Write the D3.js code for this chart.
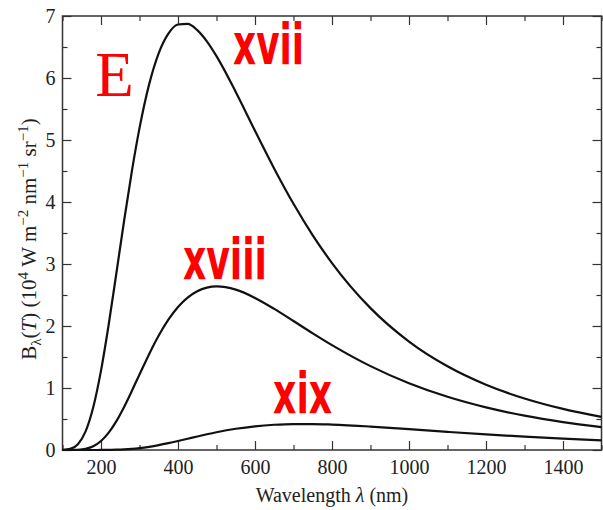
<!DOCTYPE html>
<html>
<head>
<meta charset="utf-8">
<script src="https://cdn.jsdelivr.net/npm/d3@7.9.0/dist/d3.min.js"></script>
<style>
  html, body { margin: 0; padding: 0; background: #fff; }
  svg { display: block; }
  .tick text { font-family: "Liberation Serif", "Times New Roman", serif; font-size: 20px; fill: #222; }
  .tick line { stroke: #333; stroke-width: 1.2; }
</style>
</head>
<body>
<svg id="chart" width="603" height="510"></svg>
<script>
// wavelengths (nm) and spectral radiance, 10^4 W m^-2 nm^-1 sr^-1
const lambda = [100, 120, 140, 160, 180, 200, 220, 240, 260, 280, 300, 325, 350, 375, 400, 425,
  450, 475, 500, 550, 600, 650, 700, 750, 800, 900, 1000, 1100, 1200, 1300, 1400, 1500];
const curveXvii = [0.0014, 0.0174, 0.0931, 0.2994, 0.6923, 1.2808, 2.0244, 2.8547, 3.6976, 4.4909,
  5.191, 5.897, 6.402, 6.716, 6.863, 6.872, 6.772, 6.591, 6.352, 5.775, 5.149, 4.538, 3.971, 3.462,
  3.015, 2.288, 1.749, 1.350, 1.053, 0.831, 0.663, 0.534];
const curveXviii = [0.0000, 0.0005, 0.0042, 0.0198, 0.0619, 0.1457, 0.2807, 0.4665, 0.6946, 0.9505,
  1.218, 1.546, 1.846, 2.101, 2.306, 2.458, 2.561, 2.619, 2.638, 2.586, 2.453, 2.276, 2.080, 1.882,
  1.692, 1.353, 1.077, 0.858, 0.687, 0.554, 0.450, 0.368];
const curveXix = [0, 0, 0, 0, 0.0001, 0.0006, 0.0018, 0.0046, 0.0098, 0.0182, 0.0304, 0.0513, 0.0780,
  0.1097, 0.1446, 0.1813, 0.2181, 0.2535, 0.2865, 0.3423, 0.3825, 0.4072, 0.4181, 0.4182, 0.4098,
  0.3776, 0.3356, 0.2922, 0.2515, 0.2152, 0.1837, 0.1568];

const xMajor = [200, 400, 600, 800, 1000, 1200, 1400];
const xMinor = [100, 300, 500, 700, 900, 1100, 1300, 1500];
const yMajor = [0, 1, 2, 3, 4, 5, 6, 7];
const yMinor = [0.5, 1.5, 2.5, 3.5, 4.5, 5.5, 6.5];

// red labels: text, left wavelength, baseline value, drawn width
const labels = [
  { text: "xvii", at: 543, v: 6.226, w: 71 },
  { text: "xviii", at: 413, v: 2.758, w: 84 },
  { text: "xix", at: 647, v: 0.597, w: 59 }
];

const svg = d3.select("#chart");
const x = d3.scaleLinear().domain([100, 1500]).range([62.5, 601.5]);
const y = d3.scaleLinear().domain([0, 7]).range([450, 16]);

const major = 9, minor = 5;
const fmt = d3.format("d");

function axisGroup(axis, tf) {
  const g = svg.append("g").attr("transform", tf).call(axis);
  g.select(".domain").remove();
  return g;
}

axisGroup(d3.axisBottom(x).tickValues(xMajor).tickSize(-major).tickPadding(10).tickFormat(fmt), "translate(0,450)");
axisGroup(d3.axisBottom(x).tickValues(xMinor).tickSize(-minor).tickFormat(""), "translate(0,450)");
axisGroup(d3.axisTop(x).tickValues(xMajor).tickSize(-major).tickFormat(""), "translate(0,16)");
axisGroup(d3.axisTop(x).tickValues(xMinor).tickSize(-minor).tickFormat(""), "translate(0,16)");
axisGroup(d3.axisLeft(y).tickValues(yMajor).tickSize(-major).tickPadding(7).tickFormat(fmt), "translate(62.5,0)");
axisGroup(d3.axisLeft(y).tickValues(yMinor).tickSize(-minor).tickFormat(""), "translate(62.5,0)");
axisGroup(d3.axisRight(y).tickValues(yMajor).tickSize(-major).tickFormat(""), "translate(601.5,0)");
axisGroup(d3.axisRight(y).tickValues(yMinor).tickSize(-minor).tickFormat(""), "translate(601.5,0)");

svg.append("rect")
  .attr("x", 62.5).attr("y", 16)
  .attr("width", 601.5 - 62.5).attr("height", 450 - 16)
  .attr("fill", "none").attr("stroke", "#333").attr("stroke-width", 1.5);

const line = d3.line()
  .x((d, i) => x(lambda[i]))
  .y(d => y(d))
  .curve(d3.curveMonotoneX);

svg.selectAll(".curve")
  .data([curveXvii, curveXviii, curveXix])
  .join("path")
  .attr("class", "curve")
  .attr("fill", "none")
  .attr("stroke", "#111")
  .attr("stroke-width", 2.2)
  .attr("d", line);

svg.selectAll(".lab")
  .data(labels)
  .join("text")
  .attr("class", "lab")
  .attr("x", d => x(d.at))
  .attr("y", d => y(d.v))
  .attr("textLength", d => d.w)
  .attr("lengthAdjust", "spacingAndGlyphs")
  .attr("fill", "#ff0000")
  .style("font-family", "'Liberation Sans Narrow', 'DejaVu Sans Condensed', 'Liberation Sans', sans-serif")
  .style("font-weight", "bold")
  .style("font-size", "57px")
  .text(d => d.text);

svg.append("text")
  .attr("x", x(185)).attr("y", y(5.71))
  .attr("fill", "#ff0000")
  .style("font-family", "'Liberation Serif', serif")
  .style("font-size", "63px")
  .text("E");

// axis titles
const serif = "'Liberation Serif', 'Times New Roman', serif";
const xt = svg.append("text")
  .attr("x", 332).attr("y", 502)
  .attr("text-anchor", "middle")
  .style("font-family", serif).style("font-size", "20px").attr("fill", "#222");
xt.append("tspan").text("Wavelength ");
xt.append("tspan").style("font-style", "italic").text("λ");
xt.append("tspan").text(" (nm)");

const yt = svg.append("text")
  .attr("transform", "translate(36,239) rotate(-90)")
  .attr("text-anchor", "middle")
  .style("font-family", serif).style("font-size", "21px").attr("fill", "#222");
const sup = (t, after) => {
  yt.append("tspan").attr("dy", -8).style("font-size", "15px").text(t);
  yt.append("tspan").attr("dy", 8).text(after);
};
yt.append("tspan").text("B");
yt.append("tspan").attr("dy", 5).style("font-size", "15px").text("λ");
yt.append("tspan").attr("dy", -5).text("(");
yt.append("tspan").style("font-style", "italic").text("T");
yt.append("tspan").text(") (10");
sup("4", " W m");
sup("−2", " nm");
sup("−1", " sr");
sup("−1", ")");
</script>
</body>
</html>
